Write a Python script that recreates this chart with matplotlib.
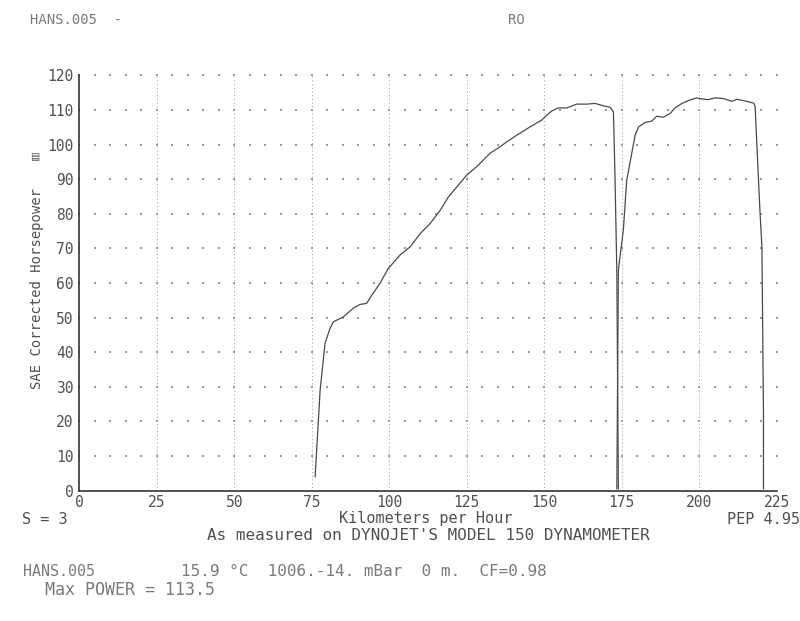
import numpy as np
import matplotlib
matplotlib.use("Agg")
import matplotlib.pyplot as plt

# ---- data ----
run1_kmh = [76.1, 77.7, 79.3, 80.9, 82.0, 85.2, 88.4, 90.6, 92.7, 94.4, 97.0,
            99.7, 103.5, 106.8, 110.0, 113.2, 116.5, 119.1, 122.3, 125.0, 128.2,
            132.5, 135.8, 137.9, 141.1, 145.4, 149.2, 150.8, 152.4, 154.5, 157.3,
            160.5, 163.7, 166.4, 169.1, 171.2, 172.3, 172.5, 172.8, 173.4, 173.9]
run1_hp = [4.0, 29.0, 42.6, 46.9, 48.8, 50.2, 52.7, 53.8, 54.1, 56.5, 59.9,
           64.2, 68.1, 70.5, 74.3, 77.2, 81.1, 84.9, 88.3, 91.2, 93.6,
           97.5, 99.4, 100.8, 102.7, 105.1, 107.1, 108.5, 109.7, 110.6, 110.6,
           111.7, 111.7, 111.9, 111.2, 110.8, 109.5, 102.7, 91.2, 63.7, 0.5]
run2_kmh = [173.4, 173.9, 175.5, 176.6, 177.7, 179.3, 180.4, 182.5, 184.7, 186.3,
            188.4, 190.6, 192.2, 194.4, 197.0, 199.2, 200.8, 202.9, 205.1, 207.8,
            210.5, 212.1, 214.8, 217.5, 218.0, 218.5, 219.6, 220.2, 220.7, 220.7]
run2_hp = [0.5, 63.7, 75.3, 89.7, 95.0, 102.7, 105.1, 106.4, 106.8, 108.2,
           107.9, 109.0, 110.6, 111.9, 112.9, 113.5, 113.2, 113.0, 113.5, 113.3,
           112.5, 113.1, 112.6, 112.0, 111.2, 101.3, 80.2, 70.5, 22.4, 0.5]

x_ticks = [0, 25, 50, 75, 100, 125, 150, 175, 200, 225]
y_ticks = [0, 10, 20, 30, 40, 50, 60, 70, 80, 90, 100, 110, 120]

txt_color = "#505050"
light_txt = "#7a7a7a"
mono = ["DejaVu Sans Mono"]

fig = plt.figure(figsize=(8.0, 6.21), dpi=100)
fig.patch.set_facecolor("white")
ax = fig.add_axes([0.099, 0.21, 0.872, 0.6686])
ax.set_facecolor("white")

ax.set_xlim(0, 225)
ax.set_ylim(0, 120)

# vertical dense-dotted grid lines
for xv in x_ticks[1:]:
    ax.axvline(xv, color="#9a9a9a", lw=0.7, linestyle=(0, (1, 2.8)), zorder=1)
# horizontal sparse dotted grid (dots every 5 km/h)
gx, gy = np.meshgrid(np.arange(0, 226, 5), np.array(y_ticks[1:]))
ax.scatter(gx.ravel(), gy.ravel(), s=0.9, marker="s", color="#9a9a9a",
           linewidths=0, zorder=1, clip_on=False)

ax.plot(run1_kmh, run1_hp, color="#4a4a4a", lw=0.9, zorder=3)
ax.plot(run2_kmh, run2_hp, color="#4a4a4a", lw=0.9, zorder=3)

for s in ["top", "right"]:
    ax.spines[s].set_visible(False)
for s in ["left", "bottom"]:
    ax.spines[s].set_color("#333333")
    ax.spines[s].set_linewidth(1.2)

ax.set_xticks(x_ticks)
ax.set_yticks(y_ticks)
ax.set_xticklabels([str(v) for v in x_ticks])
ax.set_yticklabels([str(v) for v in y_ticks])
ax.tick_params(axis="both", length=0, colors=txt_color, labelsize=10.5)
ax.tick_params(axis="x", pad=3)
ax.tick_params(axis="y", pad=4)
for lab in ax.get_xticklabels() + ax.get_yticklabels():
    lab.set_family(mono)

def ftext(x, y, s, **kw):
    kw.setdefault("family", mono)
    kw.setdefault("color", txt_color)
    kw.setdefault("fontsize", 10.5)
    kw.setdefault("va", "center")
    fig.text(x / 800, 1 - y / 621, s, **kw)

ftext(30, 20, "HANS.005  -", ha="left", fontsize=10, color=light_txt)
ftext(508, 20, "RO", ha="left", fontsize=10, color=light_txt)
ftext(37, 288, "SAE Corrected Horsepower", ha="center", rotation=90, fontsize=10)
ftext(35, 157, "\u25a4", ha="center", fontsize=7, family=["DejaVu Sans"])
ftext(22, 520, "S = 3", ha="left", fontsize=11)
ftext(426, 519, "Kilometers per Hour", ha="center", fontsize=11)
ftext(727, 519, "PEP 4.95", ha="left", fontsize=11)
ftext(428, 535, "As measured on DYNOJET'S MODEL 150 DYNAMOMETER", ha="center", fontsize=11.5)
ftext(23, 572, "HANS.005", ha="left", fontsize=10.8, color=light_txt)
ftext(181, 572, "15.9 \u00b0C  1006.-14. mBar  0 m.  CF=0.98", ha="left", fontsize=11.5,
      color=light_txt)
ftext(45, 590, "Max POWER = 113.5", ha="left", fontsize=12, color=light_txt)

fig.savefig("out.png", dpi=100, facecolor="white")
